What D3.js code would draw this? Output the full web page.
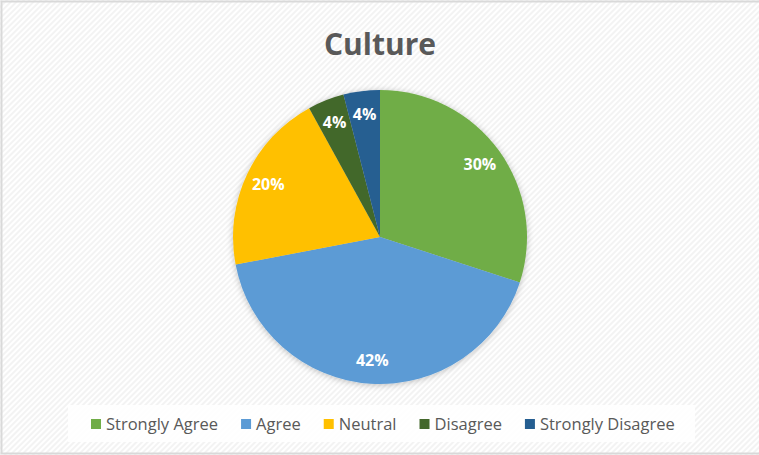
<!DOCTYPE html>
<html>
<head>
<meta charset="utf-8">
<script src="https://cdn.jsdelivr.net/npm/d3@7"></script>
<style>
  html, body { margin: 0; padding: 0; background: #fff; }
  svg { display: block; font-family: "Open Sans", "Noto Sans", sans-serif; }
</style>
</head>
<body>
<script>
// chart data
var title = "Culture";
var categories = ["Strongly Agree", "Agree", "Neutral", "Disagree", "Strongly Disagree"];
var values = [30, 42, 20, 4, 4];
var colors = ["#70AD47", "#5B9BD5", "#FFC000", "#43682B", "#255E91"];

var width = 759, height = 455;
var cx = 380, cy = 237, radius = 147;

var svg = d3.select("body").append("svg")
    .attr("width", width)
    .attr("height", height);

var defs = svg.append("defs");

// diagonal hatch background
var pat = defs.append("pattern")
    .attr("id", "hatch")
    .attr("patternUnits", "userSpaceOnUse")
    .attr("width", 4).attr("height", 4)
    .attr("patternTransform", "rotate(45)");
pat.append("rect").attr("width", 4).attr("height", 4).attr("fill", "#ffffff");
pat.append("rect").attr("width", 2).attr("height", 4).attr("fill", "#f3f3f3");

var shadow = defs.append("filter").attr("id", "shadow")
    .attr("x", "-20%").attr("y", "-20%").attr("width", "140%").attr("height", "140%");
shadow.append("feDropShadow")
    .attr("dx", 0).attr("dy", 1).attr("stdDeviation", 3)
    .attr("flood-color", "#000").attr("flood-opacity", 0.25);

svg.append("rect")
    .attr("x", 0).attr("y", 0)
    .attr("width", width).attr("height", height)
    .attr("fill", "url(#hatch)");

// frame (right edge is cut off in the original)
svg.append("path")
    .attr("d", "M" + (width + 2) + ",1.5H1.5V453.5H" + (width + 2))
    .attr("fill", "none")
    .attr("stroke", "#d9d9d9")
    .attr("stroke-width", 2);

svg.append("text")
    .attr("x", cx)
    .attr("y", 55)
    .attr("text-anchor", "middle")
    .style("font-size", "30px")
    .style("font-weight", "bold")
    .style("fill", "#595959")
    .text(title);

var pie = d3.pie().sort(null).value(function (d) { return d; });
var arcs = pie(values);
var arc = d3.arc().innerRadius(0).outerRadius(radius);
var labelArc = d3.arc().innerRadius(radius * 0.84).outerRadius(radius * 0.84);

var g = svg.append("g").attr("transform", "translate(" + cx + "," + cy + ")");

g.append("g").attr("filter", "url(#shadow)")
  .selectAll("path")
  .data(arcs)
  .enter().append("path")
    .attr("d", arc)
    .attr("fill", function (d, i) { return colors[i]; });

g.selectAll("text.label")
  .data(arcs)
  .enter().append("text")
    .attr("class", "label")
    .attr("transform", function (d) { return "translate(" + labelArc.centroid(d) + ")"; })
    .attr("text-anchor", "middle")
    .attr("dy", "0.35em")
    .style("font-size", "16px")
    .style("font-weight", "bold")
    .style("fill", "#ffffff")
    .text(function (d) { return d.data + "%"; });

// legend
svg.append("rect")
    .attr("x", 68).attr("y", 405)
    .attr("width", 627).attr("height", 37)
    .attr("fill", "#ffffff")
    .attr("fill-opacity", 0.85);

var legend = svg.append("g");
var lx = 91, ly = 424;
categories.forEach(function (c, i) {
  var item = legend.append("g").attr("transform", "translate(" + lx + ",0)");
  item.append("rect")
      .attr("x", 0).attr("y", ly - 5)
      .attr("width", 10).attr("height", 10)
      .attr("fill", colors[i]);
  var t = item.append("text")
      .attr("x", 15).attr("y", ly)
      .attr("dy", "0.35em")
      .style("font-size", "16.5px")
      .style("fill", "#595959")
      .text(c);
  lx += 15 + t.node().getComputedTextLength() + 23;
});
</script>
</body>
</html>
